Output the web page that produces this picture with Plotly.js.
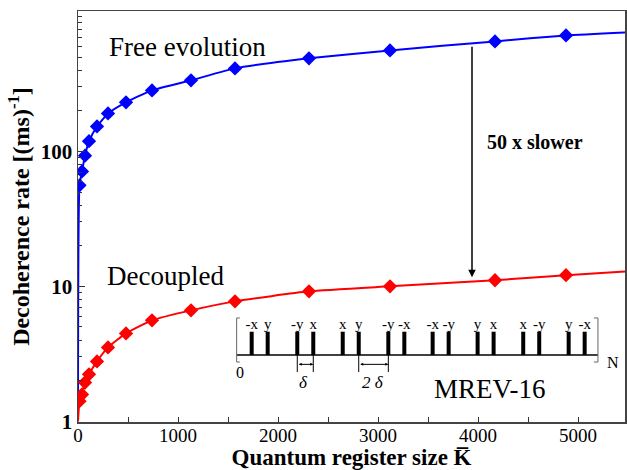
<!DOCTYPE html>
<html>
<head>
<meta charset="utf-8">
<script src="https://cdn.plot.ly/plotly-3.0.1.min.js"></script>
<style>html,body{margin:0;padding:0;background:#fff;}#chart{width:627px;height:470px;}</style>
</head>
<body>
<div id="chart"></div>
<script>
// ---- data ----
var registerSize = [15, 40, 70, 110, 190, 300, 480, 740, 1130, 1570, 2310, 3120, 4170, 4880];
var freeRate     = [56, 71, 93, 119, 153, 191, 231, 283, 336, 412, 489, 560, 653, 723];
var decoupledRate= [1.41, 1.58, 1.94, 2.23, 2.78, 3.53, 4.48, 5.6, 6.64, 7.74, 9.18, 10.0, 11.1, 12.1];
// fitted curves
var curveK        = [0, 15, 40, 70, 110, 190, 300, 480, 740, 1130, 1570, 2310, 3120, 4170, 4880, 5470];
var freeCurve     = [1, 56, 71, 93, 119, 153, 191, 231, 283, 336, 412, 489, 560, 653, 723, 761];
var decoupledCurve= [1, 1.41, 1.58, 1.94, 2.23, 2.78, 3.53, 4.48, 5.6, 6.64, 7.74, 9.18, 10.0, 11.1, 12.1, 12.9];
// arrow "50 x slower"
var arrowK = 3940, arrowFrom = 610, arrowTo = 11.7;
// MREV-16 pulse sequence (time in units of delta)
var pulseTimes  = [0.94, 1.94, 3.79, 4.79, 6.63, 7.63, 9.48, 10.48, 12.25, 13.25, 15.06, 16.06, 17.91, 18.91, 20.75, 21.75];
var pulseLabels = ['-x','y','-y','x','x','y','-y','-x','-x','-y','y','x','x','-y','y','-x'];
var cycleEnd = 22.58;
var yTicks = [1, 10, 100];
var yTickText = ['1', '10', '100'];
var xTicks = [0, 1000, 2000, 3000, 4000, 5000];

var serif = 'Liberation Serif, Times New Roman, serif';
var blue = '#0000ff', red = '#ff0000';

var pulseX = [], pulseY = [];
pulseTimes.forEach(function(t){ pulseX.push(t, t, null); pulseY.push(0, 1, null); });

var minorY = [];
[1, 10, 100].forEach(function(d){ for (var k = 2; k <= 9; k++) minorY.push(k * d); });
minorY.push(1000);

var traces = [
  {x: curveK, y: freeCurve, mode: 'lines', line: {color: blue, width: 2, shape: 'spline', smoothing: 0.5}, hoverinfo: 'skip'},
  {x: registerSize, y: freeRate, mode: 'markers', marker: {symbol: 'diamond', size: 11, color: blue}},
  {x: curveK, y: decoupledCurve, mode: 'lines', line: {color: red, width: 2, shape: 'spline', smoothing: 0.5}, hoverinfo: 'skip'},
  {x: registerSize, y: decoupledRate, mode: 'markers', marker: {symbol: 'diamond', size: 11, color: red}},
  {x: pulseX, y: pulseY, xaxis: 'x2', yaxis: 'y2', mode: 'lines', line: {color: '#000', width: 4}},
  {x: pulseTimes, y: pulseTimes.map(function(){return 1.27;}), xaxis: 'x2', yaxis: 'y2', mode: 'text',
   text: pulseLabels, textposition: 'middle center', textfont: {family: serif, size: 15, color: '#000'}}
];

var gray = '#666';
var shapes = [
  {type: 'line', xref: 'x2', yref: 'y2', x0: 0, x1: cycleEnd, y0: 0, y1: 0, line: {color: '#000', width: 1.5}},
  // brackets
  {type: 'line', xref: 'x2', yref: 'y2', x0: 0, x1: 0, y0: -0.3, y1: 1.59, line: {color: gray, width: 1}},
  {type: 'line', xref: 'x2', yref: 'y2', x0: 0, x1: 0.2, y0: 1.59, y1: 1.59, line: {color: gray, width: 1}},
  {type: 'line', xref: 'x2', yref: 'y2', x0: 0, x1: 0.2, y0: -0.3, y1: -0.3, line: {color: gray, width: 1}},
  {type: 'line', xref: 'x2', yref: 'y2', x0: cycleEnd, x1: cycleEnd, y0: -0.3, y1: 1.59, line: {color: gray, width: 1}},
  {type: 'line', xref: 'x2', yref: 'y2', x0: cycleEnd - 0.25, x1: cycleEnd, y0: 1.59, y1: 1.59, line: {color: gray, width: 1}},
  {type: 'line', xref: 'x2', yref: 'y2', x0: cycleEnd - 0.25, x1: cycleEnd, y0: -0.3, y1: -0.3, line: {color: gray, width: 1}},
  // delta guides
  {type: 'line', xref: 'x2', yref: 'y2', x0: pulseTimes[2], x1: pulseTimes[2], y0: 0, y1: -0.73, line: {color: '#000', width: 1}},
  {type: 'line', xref: 'x2', yref: 'y2', x0: pulseTimes[3], x1: pulseTimes[3], y0: 0, y1: -0.73, line: {color: '#000', width: 1}},
  {type: 'line', xref: 'x2', yref: 'y2', x0: pulseTimes[5], x1: pulseTimes[5], y0: 0, y1: -0.73, line: {color: '#000', width: 1}},
  {type: 'line', xref: 'x2', yref: 'y2', x0: pulseTimes[6], x1: pulseTimes[6], y0: 0, y1: -0.73, line: {color: '#000', width: 1}}
];

var annotations = [
  {x: arrowK, y: Math.log10(arrowTo), ax: arrowK, ay: Math.log10(arrowFrom), xref: 'x', yref: 'y', axref: 'x', ayref: 'y',
   text: '', showarrow: true, arrowhead: 2, arrowsize: 1, arrowwidth: 1.5, arrowcolor: '#000'},
  {x: 4067, y: 2.067, xref: 'x', yref: 'y', text: '<b>50 x slower</b>', showarrow: false, xanchor: 'left',
   font: {family: serif, size: 20, color: '#000'}},
  {x: 1092, y: 2.77, xref: 'x', yref: 'y', text: 'Free evolution', showarrow: false, font: {family: serif, size: 27, color: '#000'}},
  {x: 877, y: 1.074, xref: 'x', yref: 'y', text: 'Decoupled', showarrow: false, font: {family: serif, size: 27, color: '#000'}},
  {x: 4122, y: 0.237, xref: 'x', yref: 'y', text: 'MREV-16', showarrow: false, font: {family: serif, size: 27, color: '#000'}},
  {x: 0.2, y: -0.73, xref: 'x2', yref: 'y2', text: '0', showarrow: false, font: {family: serif, size: 16, color: '#000'}},
  {x: 23.0, y: -0.34, xref: 'x2', yref: 'y2', text: 'N', showarrow: false, xanchor: 'left', font: {family: serif, size: 16, color: '#000'}},
  {x: pulseTimes[3], y: -0.4, ax: pulseTimes[2], ay: -0.4, xref: 'x2', yref: 'y2', axref: 'x2', ayref: 'y2',
   text: '', showarrow: true, arrowhead: 2, startarrowhead: 2, arrowside: 'end+start', arrowsize: 0.6, startarrowsize: 0.6, arrowwidth: 1, arrowcolor: '#000'},
  {x: pulseTimes[6], y: -0.4, ax: pulseTimes[5], ay: -0.4, xref: 'x2', yref: 'y2', axref: 'x2', ayref: 'y2',
   text: '', showarrow: true, arrowhead: 2, startarrowhead: 2, arrowside: 'end+start', arrowsize: 0.6, startarrowsize: 0.6, arrowwidth: 1, arrowcolor: '#000'},
  {x: 4.2, y: -1.16, xref: 'x2', yref: 'y2', text: '<i>δ</i>', showarrow: false, font: {family: serif, size: 17, color: '#000'}},
  {x: 8.52, y: -1.16, xref: 'x2', yref: 'y2', text: '<i>2 δ</i>', showarrow: false, font: {family: serif, size: 17, color: '#000'}}
];

var layout = {
  width: 627, height: 470,
  margin: {l: 78, r: 2, t: 11, b: 48},
  paper_bgcolor: '#fff', plot_bgcolor: 'rgba(0,0,0,0)',
  showlegend: false,
  font: {family: serif, color: '#000'},
  xaxis: {
    range: [0, 5470], tickmode: 'array', tickvals: xTicks, ticktext: xTicks.map(String),
    ticks: 'inside', ticklen: 5, tickwidth: 1, tickcolor: '#333', ticklabelstandoff: -4,
    minor: {tickmode: 'linear', tick0: 0, dtick: 500, ticks: 'inside', ticklen: 5, tickcolor: '#333'},
    showgrid: false, zeroline: false, showline: true, linecolor: '#444', linewidth: 1.5, mirror: true,
    tickfont: {family: serif, size: 19, color: '#000'},
    title: {text: '<b>Quantum register size K\u0305</b>', font: {family: serif, size: 23, color: '#000'}, standoff: 6}
  },
  yaxis: {
    type: 'log', range: [-0.005, 3.04], tickmode: 'array', tickvals: yTicks, ticktext: yTickText,
    ticks: 'inside', ticklen: 7, tickwidth: 1, tickcolor: '#333',
    minor: {tickmode: 'array', tickvals: minorY, ticks: 'inside', ticklen: 4, tickcolor: '#333'},
    showgrid: false, zeroline: false, showline: true, linecolor: '#444', linewidth: 1.5, mirror: true,
    tickfont: {family: serif, size: 21, color: '#000', weight: 'bold'},
    title: {text: '<b>Decoherence rate [(ms)<sup>-1</sup>]</b>', font: {family: serif, size: 24, color: '#000'}, standoff: 4}
  },
  xaxis2: {domain: [0.2596, 0.9909], range: [-1.04, 23.96], anchor: 'y2', visible: false, fixedrange: true},
  yaxis2: {domain: [0.0535, 0.2968], range: [-1.93, 2.36], anchor: 'x2', visible: false, fixedrange: true},
  shapes: shapes,
  annotations: annotations
};

Plotly.newPlot('chart', traces, layout, {displayModeBar: false, staticPlot: true});
</script>
</body>
</html>
